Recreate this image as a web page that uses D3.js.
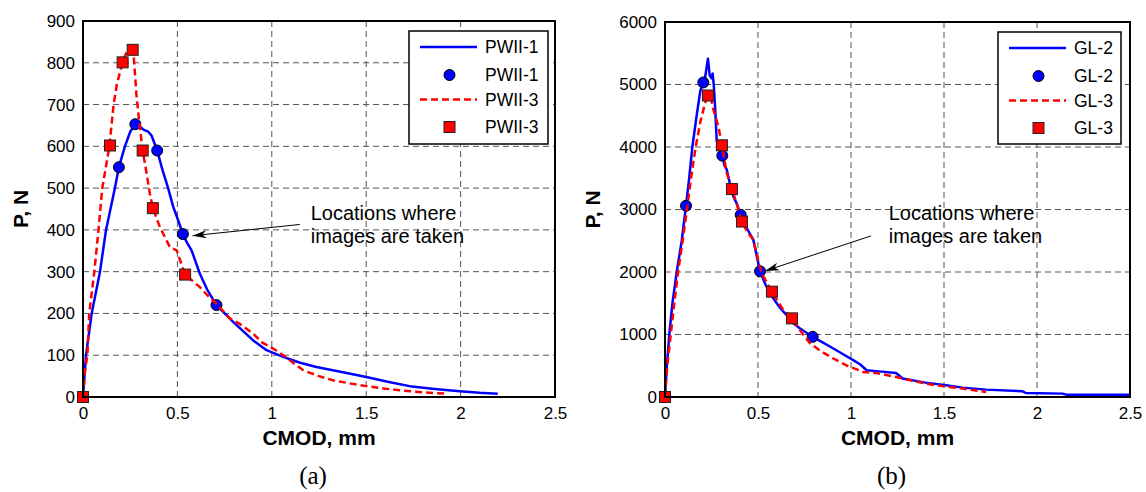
<!DOCTYPE html>
<html>
<head>
<meta charset="utf-8">
<script src="https://cdn.jsdelivr.net/npm/d3@7"></script>
<style>
  body { margin: 0; background: #fff; }
  svg { display: block; font-family: "Liberation Sans", Arial, Helvetica, sans-serif; }
  .grid line { stroke: #555; stroke-width: 1; stroke-dasharray: 6,4; }
  .tick text { font-size: 17px; fill: #000; }
</style>
</head>
<body>
<svg id="chart" width="1146" height="492"></svg>
<script>
// x ticks shared by both panels
const xTicks = [0, 0.5, 1, 1.5, 2, 2.5];
const yTicksA = [0, 100, 200, 300, 400, 500, 600, 700, 800, 900];
const yTicksB = [0, 1000, 2000, 3000, 4000, 5000, 6000];

// (a) PWII-1 curve and image points
const pwii1Curve = [[0,0],[0.016,100],[0.046,200],[0.09,300],[0.122,400],[0.169,500],[0.19,550],[0.222,600],
  [0.25,635],[0.277,653],[0.3,648],[0.32,640],[0.345,635],[0.363,626],[0.393,590],[0.42,545],[0.451,500],
  [0.478,455],[0.504,423],[0.529,390],[0.55,370],[0.575,351],[0.619,295],[0.66,255],[0.707,220],[0.795,180],
  [0.9,136],[0.972,112],[1.06,96],[1.15,82],[1.236,72],[1.37,60],[1.5,48],[1.62,36],[1.73,26],[1.85,20],
  [1.995,14],[2.1,10],[2.197,8]];
const pwii1Points = [[0,0],[0.19,550],[0.277,653],[0.393,590],[0.529,390],[0.707,220]];

// (a) PWII-3 curve and image points
const pwii3Curve = [[0,0],[0.01,60],[0.023,100],[0.033,200],[0.06,300],[0.082,400],[0.102,500],[0.14,600],
  [0.162,700],[0.18,750],[0.21,801],[0.23,825],[0.255,833],[0.268,820],[0.284,718],[0.3,650],[0.316,590],
  [0.337,535],[0.354,487],[0.37,452],[0.407,407],[0.46,359],[0.496,351],[0.541,293],[0.58,278],[0.619,263],
  [0.66,243],[0.707,223],[0.778,188],[0.83,175],[0.9,152],[0.95,130],[1.007,116],[1.06,100],[1.166,64],
  [1.25,50],[1.324,40],[1.42,32],[1.5,26],[1.6,20],[1.677,16],[1.8,11],[1.924,8]];
const pwii3Points = [[0,0],[0.143,602],[0.21,801],[0.263,831],[0.316,590],[0.37,452],[0.541,293]];

// (b) GL-2 curve and image points
const gl2Curve = [[0,0],[0.01,500],[0.023,1000],[0.04,1500],[0.063,2000],[0.09,2500],[0.113,3060],[0.13,3500],
  [0.147,4000],[0.17,4500],[0.19,4900],[0.206,5033],[0.215,5100],[0.225,5300],[0.231,5413],[0.24,5150],
  [0.25,5100],[0.256,5177],[0.262,5000],[0.27,4600],[0.278,4100],[0.29,4000],[0.308,3862],[0.32,3700],
  [0.332,3637],[0.35,3400],[0.367,3209],[0.385,3100],[0.407,2915],[0.44,2700],[0.475,2514],[0.49,2300],
  [0.511,2012],[0.54,1800],[0.582,1578],[0.62,1420],[0.654,1311],[0.69,1180],[0.726,1097],[0.794,963],
  [0.85,870],[0.905,776],[0.96,680],[1.012,589],[1.05,520],[1.084,428],[1.15,410],[1.242,385],[1.278,295],
  [1.4,230],[1.511,188],[1.6,150],[1.726,118],[1.923,91],[1.94,64],[2.138,54],[2.156,38],[2.5,38]];
const gl2Points = [[0,0],[0.113,3060],[0.206,5033],[0.308,3862],[0.407,2915],[0.511,2012],[0.794,963]];

// (b) GL-3 curve and image points
const gl3Curve = [[0,0],[0.012,500],[0.031,1000],[0.05,1500],[0.07,2000],[0.095,2500],[0.118,3000],[0.14,3500],
  [0.165,4000],[0.19,4400],[0.215,4700],[0.231,4824],[0.245,4800],[0.26,4600],[0.287,4332],[0.306,4027],
  [0.332,3584],[0.36,3327],[0.385,3100],[0.414,2807],[0.44,2650],[0.475,2514],[0.5,2200],[0.52,1979],
  [0.575,1685],[0.636,1391],[0.683,1258],[0.73,1050],[0.78,857],[0.84,730],[0.905,616],[0.98,500],
  [1.066,401],[1.134,385],[1.242,321],[1.33,260],[1.42,204],[1.5,170],[1.6,135],[1.726,80]];
const gl3Points = [[0,0],[0.231,4824],[0.306,4027],[0.36,3327],[0.414,2807],[0.575,1685],[0.683,1258]];

const legendA = ['PWII-1', 'PWII-1', 'PWII-3', 'PWII-3'];
const legendB = ['GL-2', 'GL-2', 'GL-3', 'GL-3'];
const noteLines = ['Locations where', 'images are taken'];

const svg = d3.select('#chart');

const panels = [
  {
    left: 83, right: 555, top: 21, bottom: 397, yMax: 900, yTicks: yTicksA, yTitleX: 28,
    series: [pwii1Curve, pwii1Points, pwii3Curve, pwii3Points], legend: legendA,
    legendBox: { x: 409, y: 31, w: 139, h: 113 },
    note: { x: 1.206, y: 423 }, arrow: { from: [1.148, 413], to: [0.58, 386] },
    label: '(a)'
  },
  {
    left: 665, right: 1130, top: 22, bottom: 397, yMax: 6000, yTicks: yTicksB, yTitleX: 600,
    series: [gl2Curve, gl2Points, gl3Curve, gl3Points], legend: legendB,
    legendBox: { x: 998, y: 32, w: 123, h: 112 },
    note: { x: 1.203, y: 2835 }, arrow: { from: [1.108, 2578], to: [0.538, 2017] },
    label: '(b)'
  }
];

const blue = '#0000ff';
const red = '#ff0000';

svg.append('defs').append('marker')
  .attr('id', 'arrowhead')
  .attr('viewBox', '0 -5 14 10')
  .attr('refX', 14).attr('refY', 0)
  .attr('markerWidth', 14).attr('markerHeight', 10)
  .attr('markerUnits', 'userSpaceOnUse')
  .attr('orient', 'auto')
  .append('path')
  .attr('d', 'M0,-4L14,0L0,4L4,0Z')
  .attr('fill', '#000');

panels.forEach(drawPanel);

function drawPanel(p) {
  const x = d3.scaleLinear().domain([0, 2.5]).range([p.left, p.right]);
  const y = d3.scaleLinear().domain([0, p.yMax]).range([p.bottom, p.top]);
  const g = svg.append('g');

  // grid
  const grid = g.append('g').attr('class', 'grid');
  grid.selectAll('line.v')
    .data(xTicks.filter((d) => d > 0 && d < 2.5))
    .join('line')
    .attr('x1', (d) => x(d)).attr('x2', (d) => x(d))
    .attr('y1', p.top).attr('y2', p.bottom);
  grid.selectAll('line.h')
    .data(p.yTicks.filter((d) => d > 0 && d < p.yMax))
    .join('line')
    .attr('x1', p.left).attr('x2', p.right)
    .attr('y1', (d) => y(d)).attr('y2', (d) => y(d));

  // axes
  g.append('g')
    .attr('transform', `translate(0,${p.bottom})`)
    .call(d3.axisBottom(x).tickValues(xTicks).tickFormat(d3.format('~g')).tickSize(0).tickPadding(8))
    .call((s) => s.select('.domain').remove())
    .selectAll('text').attr('dy', '0.8em');
  g.append('g')
    .attr('transform', `translate(${p.left},0)`)
    .call(d3.axisLeft(y).tickValues(p.yTicks).tickFormat(d3.format('d')).tickSize(0).tickPadding(8))
    .call((s) => s.select('.domain').remove());

  // annotation
  g.append('line')
    .attr('x1', x(p.arrow.from[0])).attr('y1', y(p.arrow.from[1]))
    .attr('x2', x(p.arrow.to[0])).attr('y2', y(p.arrow.to[1]))
    .attr('stroke', '#000').attr('stroke-width', 1)
    .attr('marker-end', 'url(#arrowhead)');
  g.append('text')
    .attr('x', x(p.note.x)).attr('y', y(p.note.y))
    .attr('font-size', 20)
    .selectAll('tspan')
    .data(noteLines)
    .join('tspan')
    .attr('x', x(p.note.x))
    .attr('dy', (d, i) => (i === 0 ? 0 : 23))
    .text((d) => d);

  const line = d3.line().x((d) => x(d[0])).y((d) => y(d[1]));
  const [curve1, pts1, curve2, pts2] = p.series;

  g.append('path').datum(curve1)
    .attr('d', line).attr('fill', 'none')
    .attr('stroke', blue).attr('stroke-width', 2.5).attr('stroke-linejoin', 'round');
  g.selectAll('circle.pt').data(pts1).join('circle')
    .attr('cx', (d) => x(d[0])).attr('cy', (d) => y(d[1])).attr('r', 5.5)
    .attr('fill', blue).attr('stroke', '#000').attr('stroke-width', 1);
  g.append('path').datum(curve2)
    .attr('d', line).attr('fill', 'none')
    .attr('stroke', red).attr('stroke-width', 2.5).attr('stroke-dasharray', '7,4');
  g.selectAll('rect.pt').data(pts2).join('rect')
    .attr('x', (d) => x(d[0]) - 5.5).attr('y', (d) => y(d[1]) - 5.5)
    .attr('width', 11).attr('height', 11)
    .attr('fill', red).attr('stroke', '#222').attr('stroke-width', 1);

  // frame
  g.append('rect')
    .attr('x', p.left).attr('y', p.top)
    .attr('width', p.right - p.left).attr('height', p.bottom - p.top)
    .attr('fill', 'none').attr('stroke', '#000').attr('stroke-width', 2);

  // legend
  const lb = p.legendBox;
  const lg = g.append('g').attr('transform', `translate(${lb.x},${lb.y})`);
  lg.append('rect').attr('width', lb.w).attr('height', lb.h)
    .attr('fill', '#fff').attr('stroke', '#000').attr('stroke-width', 1.5);
  const rowsY = [16, 44, 68.5, 96];
  const sx0 = 11, sx1 = 68, tx = 76;
  lg.append('line').attr('x1', sx0).attr('x2', sx1).attr('y1', rowsY[0]).attr('y2', rowsY[0])
    .attr('stroke', blue).attr('stroke-width', 2.5);
  lg.append('circle').attr('cx', (sx0 + sx1) / 2 + 1).attr('cy', rowsY[1]).attr('r', 5.5)
    .attr('fill', blue).attr('stroke', '#000');
  lg.append('line').attr('x1', sx0).attr('x2', sx1).attr('y1', rowsY[2]).attr('y2', rowsY[2])
    .attr('stroke', red).attr('stroke-width', 2.5).attr('stroke-dasharray', '7,4');
  lg.append('rect').attr('x', (sx0 + sx1) / 2 + 1 - 5.5).attr('y', rowsY[3] - 5.5)
    .attr('width', 11).attr('height', 11)
    .attr('fill', red).attr('stroke', '#222');
  lg.selectAll('text.lab').data(p.legend).join('text')
    .attr('x', tx).attr('y', (d, i) => rowsY[i] + 6)
    .attr('font-size', 17.5)
    .text((d) => d);

  // axis titles
  const cx = (p.left + p.right) / 2;
  g.append('text')
    .attr('x', cx).attr('y', 445)
    .attr('text-anchor', 'middle').attr('font-weight', 'bold').attr('font-size', 21)
    .text('CMOD, mm');
  g.append('text')
    .attr('transform', `translate(${p.yTitleX},${(p.top + p.bottom) / 2}) rotate(-90)`)
    .attr('text-anchor', 'middle').attr('font-weight', 'bold').attr('font-size', 21)
    .text('P, N');
  g.append('text')
    .attr('x', cx - 6).attr('y', 484)
    .attr('text-anchor', 'middle')
    .attr('font-family', '"Liberation Serif", "Times New Roman", serif')
    .attr('font-size', 25)
    .text(p.label);
}
</script>
</body>
</html>
